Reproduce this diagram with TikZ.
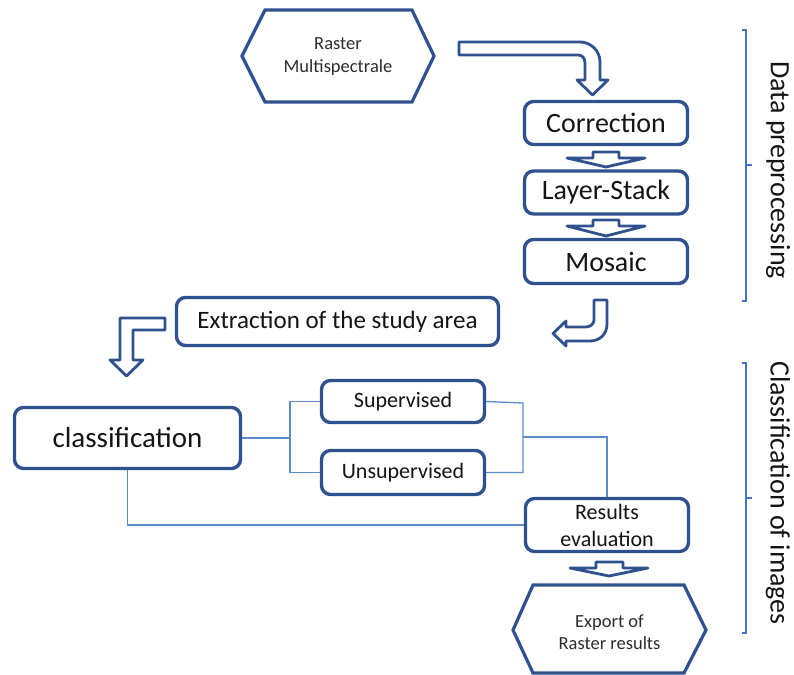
\documentclass[tikz,border=0pt]{standalone}
\usepackage{fontspec}
\setmainfont{Carlito}
\definecolor{boxblue}{RGB}{47,82,143}
\definecolor{linkblue}{RGB}{91,139,205}
\definecolor{brackblue}{RGB}{68,114,196}
\definecolor{txt}{RGB}{20,20,20}
\begin{document}
\begin{tikzpicture}[x=1pt,y=-1pt,
  procbox/.style={draw=boxblue,line width=3.4pt,rounded corners=9pt,fill=white,text=txt,inner sep=0pt},
  blockarrow/.style={draw=boxblue,line width=2.8pt,fill=white,line join=round},
  hexline/.style={draw=boxblue,line width=3.2pt,line join=miter},
  link/.style={draw=linkblue,line width=1.3pt},
  brack/.style={draw=brackblue,line width=1.2pt}]
\useasboundingbox (0,0) rectangle (794,674);

% top hexagon
\draw[hexline] (242,56) -- (265,10) -- (412,10) -- (434,56) -- (412,102) -- (265,102) -- cycle;
\node[align=center,text=txt!90,font=\fontsize{18.5}{23}\selectfont] (raster) at (338,57) {Raster\\Multispectrale};

% bent arrow top
\draw[blockarrow] (459,42) -- (580,42) .. controls (591,42) and (600,51) .. (600,62) -- (600,80) -- (608,80) -- (592.5,95) -- (577,80) -- (585,80) -- (585,63) .. controls (585,58) and (582,55) .. (578,55) -- (459,55) -- cycle;

% preprocessing boxes
\node[procbox,minimum width=163pt,minimum height=43pt,font=\fontsize{28}{32}\selectfont] (corr) at (606,123) {Correction};
\node[procbox,minimum width=163pt,minimum height=43pt,font=\fontsize{28}{32}\selectfont] (layer) at (606,192.5) {Layer-Stack};
\node[procbox,minimum width=163pt,minimum height=44pt,font=\fontsize{28}{32}\selectfont] (mosaic) at (606,261.5) {Mosaic};

% small down arrows
\draw[blockarrow] (593,152) -- (619,152) -- (619,158) -- (645,158) -- (606,167) -- (567,158) -- (593,158) -- cycle;
\draw[blockarrow] (593,220) -- (619,220) -- (619,226) -- (645,226) -- (606,236) -- (567,226) -- (593,226) -- cycle;

% bent arrow from mosaic
\draw[blockarrow] (594,300) -- (607,300) -- (607,324) .. controls (607,334) and (600,341) .. (590,341) -- (566,341) -- (566,346) -- (553,333.5) -- (566,321) -- (566,327) -- (586,327) .. controls (590,327) and (594,324) .. (594,320) -- cycle;

% extraction
\node[procbox,minimum width=322pt,minimum height=48pt,font=\fontsize{25}{30}\selectfont] (extr) at (337.5,321.5) {Extraction of the study area};

% bent arrow left of extraction
\draw[blockarrow] (165,318) -- (120,318) -- (120,360) -- (110,360) -- (126.5,376) -- (143,360) -- (133,360) -- (133,330) -- (165,330) -- cycle;

% classification part
\node[procbox,minimum width=226pt,minimum height=61pt,font=\fontsize{29}{34}\selectfont] (cls) at (127.5,438) {classification};
\node[procbox,minimum width=163pt,minimum height=42pt,font=\fontsize{22}{26}\selectfont] (sup) at (403,401.5) {Supervised};
\node[procbox,minimum width=163pt,minimum height=44pt,font=\fontsize{22}{26}\selectfont] (uns) at (403,472.5) {Unsupervised};
\node[procbox,minimum width=163pt,minimum height=53pt,align=center,font=\fontsize{22}{27}\selectfont] (res) at (607,525) {Results\\evaluation};

\coordinate (j1) at (290,438);
\coordinate (j2) at (523,403);
\coordinate (j3) at (523,437);
\draw[link] (cls.east) -- (j1);
\draw[link] (j1) |- (sup.west);
\draw[link] (j1) |- (uns.west);
\draw[link] (sup.east) -- (j2) |- (uns.east);
\draw[link] (j3) -| (res.north);
\draw[link] (cls.south) |- (res.west);

% arrow to export
\draw[blockarrow] (596,562) -- (623,562) -- (623,568) -- (648,568) -- (609,576) -- (570,568) -- (596,568) -- cycle;

% export hexagon
\draw[hexline] (513,630) -- (533,585) -- (684,585) -- (706,630) -- (684,673) -- (533,673) -- cycle;
\node[align=center,text=txt!90,font=\fontsize{18.5}{22}\selectfont] (export) at (609.5,632) {Export of\\Raster results};

% brackets
\draw[brack] (742,30) -- (746,30) -- (746,301) -- (742,301);
\draw[brack] (746,165) -- (752,165);
\draw[brack] (742,363) -- (746,363) -- (746,633) -- (742,633);
\draw[brack] (746,498) -- (752,498);
\node[rotate=-90,text=txt,font=\fontsize{28}{32}\selectfont] (lab1) at (778,170) {Data preprocessing};
\node[rotate=-90,text=txt,font=\fontsize{28}{32}\selectfont] (lab2) at (778,493) {Classification of images};
\end{tikzpicture}
\end{document}
